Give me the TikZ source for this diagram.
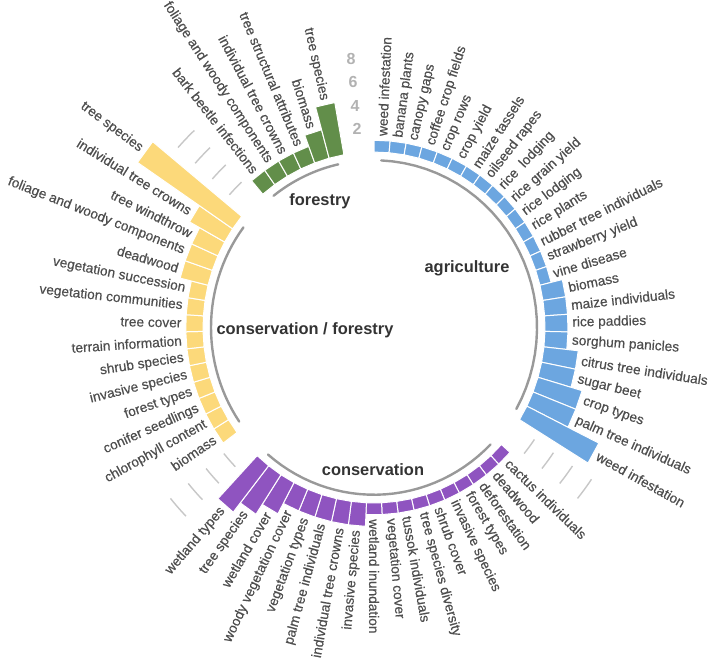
\documentclass[tikz,border=0pt]{standalone}
\usepackage{fontspec}
\setmainfont{Liberation Sans}
\newfontfamily\barfont[FakeBold=0.5]{Liberation Sans}
\usepackage{tikz}

\definecolor{agri}{RGB}{108,166,224}
\definecolor{fore}{RGB}{98,142,74}
\definecolor{cofo}{RGB}{252,217,122}
\definecolor{cons}{RGB}{143,84,192}
\definecolor{labgray}{RGB}{78,78,78}

\newcommand{\slotw}{5.070423}
\newcommand{\rzero}{171}
\newcommand{\unitv}{11.5}

% \ringbar{slot}{value}{colour}{label}
\newcommand{\ringbar}[4]{%
  \pgfmathsetmacro{\barA}{90-#1*\slotw}%
  \pgfmathsetmacro{\barB}{90-(#1+1)*\slotw}%
  \pgfmathsetmacro{\barM}{90-(#1+0.5)*\slotw}%
  \pgfmathsetmacro{\barR}{\rzero+#2*\unitv}%
  \pgfmathsetmacro{\barL}{\barR+4}%
  \fill[#3,draw=white,line width=0.5pt]
      (\barA:\rzero) -- (\barA:\barR) -- (\barB:\barR) -- (\barB:\rzero) -- cycle;
  \ifdim\barM pt<-90pt
    \pgfmathsetmacro{\barT}{\barM+180}%
    \node[barlabel,anchor=east,rotate=\barT] (lab#1) at (\barM:\barL) {#4};
  \else
    \node[barlabel,anchor=west,rotate=\barM] (lab#1) at (\barM:\barL) {#4};
  \fi}

% \ringarc{style}{from}{to}{radius}
\newcommand{\ringarc}[4]{\draw[#1] plot[domain=#2:#3,samples=30] (\x:#4);}

\begin{document}
\begin{tikzpicture}[x=0.5pt,y=0.513pt,
    barlabel/.style={inner sep=0pt,text=labgray,font=\barfont\fontsize{6.85}{8}\selectfont},
    grouplabel/.style={inner sep=0pt,text=black!80,font=\bfseries\fontsize{8.2}{10}\selectfont},
    scalelabel/.style={inner sep=0pt,text=black!30,font=\bfseries\fontsize{8}{9}\selectfont},
    basearc/.style={draw=black!40,line width=1.2pt,line cap=round},
    gridarc/.style={draw=black!22,line width=0.7pt}]
    \useasboundingbox (-374,-322.1) rectangle (336,319.2);

    %%%%%%%%%%%%%%%%%%%%%%%%%%%%%%%%%%%
    % agriculture
    \ringbar{0}{1}{agri}{weed infestation}
    \ringbar{1}{1}{agri}{banana plants}
    \ringbar{2}{1}{agri}{canopy gaps}
    \ringbar{3}{1}{agri}{coffee crop fields}
    \ringbar{4}{1}{agri}{crop rows}
    \ringbar{5}{1}{agri}{crop yield}
    \ringbar{6}{1}{agri}{maize tassels}
    \ringbar{7}{1}{agri}{oilseed rapes}
    \ringbar{8}{1}{agri}{rice\ \ lodging}
    \ringbar{9}{1}{agri}{rice grain yield}
    \ringbar{10}{1}{agri}{rice lodging}
    \ringbar{11}{1}{agri}{rice plants}
    \ringbar{12}{1}{agri}{rubber tree individuals}
    \ringbar{13}{1}{agri}{strawberry yield}
    \ringbar{14}{1}{agri}{vine disease}
    \ringbar{15}{2}{agri}{biomass}
    \ringbar{16}{2}{agri}{maize individuals}
    \ringbar{17}{2}{agri}{rice paddies}
    \ringbar{18}{2}{agri}{sorghum panicles}
    \ringbar{19}{3}{agri}{citrus tree individuals}
    \ringbar{20}{3}{agri}{sugar beet}
    \ringbar{21}{4}{agri}{crop types}
    \ringbar{22}{4}{agri}{palm tree individuals}
    \ringbar{23}{7}{agri}{weed infestation}
    \ringarc{basearc}{87.465}{-29.155}{163}

    %%%%%%%%%%%%%%%%%%%%%%%%%%%%%%%%%%%
    % conservation
    \ringbar{26}{1}{cons}{cactus individuals}
    \ringbar{27}{1}{cons}{deadwood}
    \ringbar{28}{1}{cons}{deforestation}
    \ringbar{29}{1}{cons}{forest types}
    \ringbar{30}{1}{cons}{invasive species}
    \ringbar{31}{1}{cons}{shrub cover}
    \ringbar{32}{1}{cons}{tree species diversity}
    \ringbar{33}{1}{cons}{tussok individuals}
    \ringbar{34}{1}{cons}{vegetation cover}
    \ringbar{35}{1}{cons}{wetland inundation}
    \ringbar{36}{2}{cons}{invasive species}
    \ringbar{37}{2}{cons}{individual tree crowns}
    \ringbar{38}{2}{cons}{palm tree individuals}
    \ringbar{39}{2}{cons}{vegetation types}
    \ringbar{40}{2}{cons}{woody vegetation cover}
    \ringbar{41}{3}{cons}{wetland cover}
    \ringbar{42}{4}{cons}{tree species}
    \ringbar{43}{5}{cons}{wetland types}
    \ringarc{basearc}{-44.366}{-130.563}{163}

    %%%%%%%%%%%%%%%%%%%%%%%%%%%%%%%%%%%
    % conservation / forestry
    \ringbar{46}{1.5}{cofo}{biomass}
    \ringbar{47}{1.5}{cofo}{chlorophyll content}
    \ringbar{48}{1.5}{cofo}{conifer seedlings}
    \ringbar{49}{1.5}{cofo}{forest types}
    \ringbar{50}{1.5}{cofo}{invasive species}
    \ringbar{51}{1.5}{cofo}{shrub species}
    \ringbar{52}{1.5}{cofo}{terrain information}
    \ringbar{53}{1.5}{cofo}{tree cover}
    \ringbar{54}{1.5}{cofo}{vegetation communities}
    \ringbar{55}{1.5}{cofo}{vegetation succession}
    \ringbar{56}{2.5}{cofo}{deadwood}
    \ringbar{57}{2.5}{cofo}{foliage and woody components}
    \ringbar{58}{2.5}{cofo}{tree windthrow}
    \ringbar{59}{3.5}{cofo}{individual tree crowns}
    \ringbar{60}{10}{cofo}{tree species}
    \ringarc{basearc}{-145.775}{-216.761}{163}

    %%%%%%%%%%%%%%%%%%%%%%%%%%%%%%%%%%%
    % forestry
    \ringbar{63}{1.5}{fore}{bark beetle infections}
    \ringbar{64}{1.5}{fore}{foliage and woody components}
    \ringbar{65}{1.5}{fore}{individual tree crowns}
    \ringbar{66}{1.5}{fore}{tree structural attributes}
    \ringbar{67}{2.5}{fore}{biomass}
    \ringbar{68}{4.5}{fore}{tree species}
    \ringarc{basearc}{-231.972}{-257.324}{163}

    %%%%%%%%%%%%%%%%%%%%%%%%%%%%%%%%%%%
    % grid lines in the gaps
    \ringarc{gridarc}{-34.225}{-39.296}{194}
    \ringarc{gridarc}{-34.225}{-39.296}{217}
    \ringarc{gridarc}{-34.225}{-39.296}{240}
    \ringarc{gridarc}{-34.225}{-39.296}{263}
    \ringarc{gridarc}{-135.634}{-140.704}{194}
    \ringarc{gridarc}{-135.634}{-140.704}{217}
    \ringarc{gridarc}{-135.634}{-140.704}{240}
    \ringarc{gridarc}{-135.634}{-140.704}{263}
    \ringarc{gridarc}{-221.831}{-226.901}{194}
    \ringarc{gridarc}{-221.831}{-226.901}{217}
    \ringarc{gridarc}{-221.831}{-226.901}{240}
    \ringarc{gridarc}{-221.831}{-226.901}{263}

    % scale
    \node[scalelabel] (s2) at (95:194) {2};
    \node[scalelabel] (s4) at (95:217) {4};
    \node[scalelabel] (s6) at (95:240) {6};
    \node[scalelabel] (s8) at (95:263) {8};

    % group names
    \node[grouplabel] (forestry) at (-54,123.3) {forestry};
    \node[grouplabel] (agriculture) at (93,58) {agriculture};
    \node[grouplabel] (consfor) at (-69,-2.4) {conservation / forestry};
    \node[grouplabel] (conservation) at (-1,-138.4) {conservation};
\end{tikzpicture}
\end{document}
